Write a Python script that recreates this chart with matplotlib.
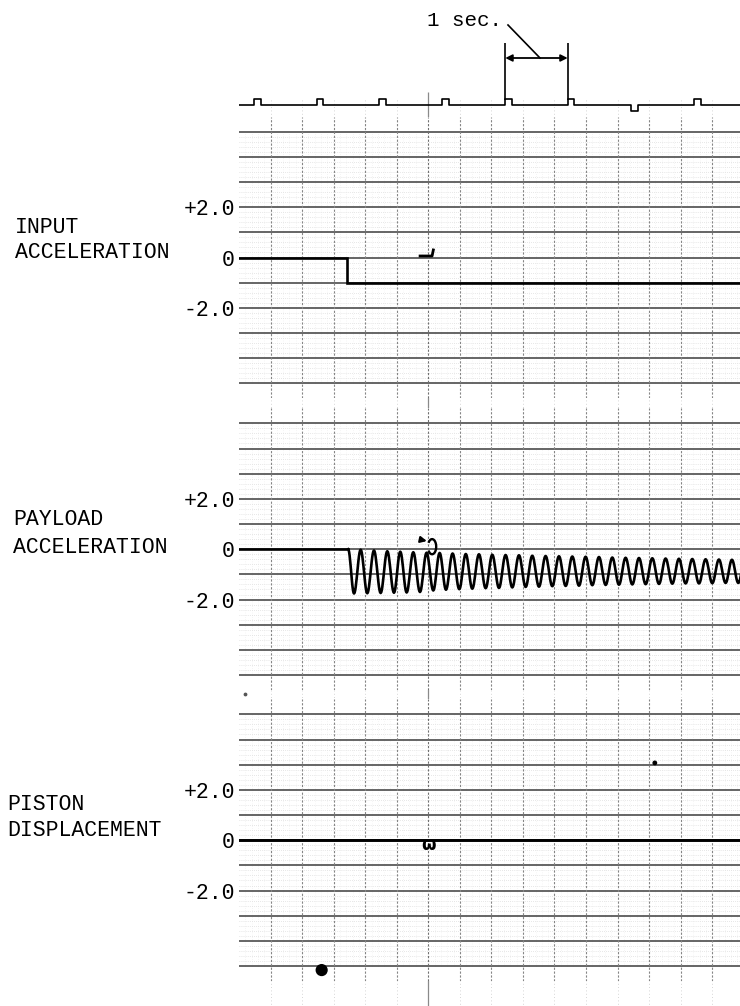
import numpy as np
import matplotlib
matplotlib.use("Agg")
import matplotlib.pyplot as plt
from matplotlib.patches import Arc

# ---- data (time in seconds, values in chart units) ----
T_END = 7.94

# timing trace: rising edge of each 1-sec pip, +1 = up pip, -1 = down pip
pip_t = [0.238, 1.231, 2.219, 3.222, 4.220, 5.209, 6.212, 7.210]
pip_dir = [1, 1, 1, 1, 1, 1, -1, 1]

# input acceleration: step from 0 to -1.0
input_t = [0.0, 1.71, 1.71, T_END]
input_v = [0.0, 0.0, -1.0, -1.0]

payload_start = 1.73
trough_t = [1.823, 2.033, 2.245, 2.456, 2.657, 2.868, 3.079, 3.280, 3.491, 3.697,
            3.909, 4.120, 4.331, 4.543, 4.754, 4.965, 5.177, 5.388, 5.599, 5.811,
            6.022, 6.233, 6.445, 6.656, 6.867, 7.078, 7.290, 7.501, 7.712, 7.913]
trough_v = [-1.76, -1.75, -1.74, -1.73, -1.72, -1.70, -1.64, -1.61, -1.59, -1.57,
            -1.55, -1.54, -1.52, -1.50, -1.49, -1.47, -1.46, -1.45, -1.43, -1.42,
            -1.41, -1.40, -1.39, -1.38, -1.37, -1.36, -1.36, -1.35, -1.34, -1.34]
peak_t = [1.928, 2.139, 2.350, 2.556, 2.762, 2.973, 3.180, 3.385, 3.594, 3.803,
          4.014, 4.225, 4.437, 4.648, 4.859, 5.071, 5.282, 5.493, 5.705, 5.916,
          6.127, 6.339, 6.550, 6.761, 6.972, 7.184, 7.395, 7.606, 7.812, 8.020]
peak_v = [-0.02, -0.05, -0.08, -0.10, -0.12, -0.14, -0.15, -0.17, -0.19, -0.20,
          -0.22, -0.23, -0.24, -0.26, -0.27, -0.28, -0.29, -0.30, -0.31, -0.33,
          -0.34, -0.35, -0.36, -0.37, -0.38, -0.39, -0.40, -0.41, -0.42, -0.43]

# piston displacement: stays at 0
piston_t = [0.0, T_END]
piston_v = [0.0, 0.0]

event_t = 3.0  # small pen marks on each trace
ink_t = [1.31, 6.59, 0.10]
ink_v = [-5.16, 3.07, 5.81]

labels = [["INPUT", "ACCELERATION"], ["PAYLOAD", "ACCELERATION"], ["PISTON", "DISPLACEMENT"]]
ytick_vals = [2, 0, -2]
ytick_txt = ["+2.0", "0", "-2.0"]

# ---- layout (pixels of a 740x1006 page) ----
W, H = 740, 1006
PX_LEFT = 239
panel_center_px = [257.5, 549.2, 840.2]
label_x_px = [15, 13, 7]
label_y = [(1.19, 0.19), (1.18, 0.07), (1.40, 0.37)]  # chart units for the two label lines
PX_PER_UNIT = 25.17
YLIM = 5.6

mono = "Liberation Mono"
fig = plt.figure(figsize=(W / 100, H / 100), dpi=100)
fig.patch.set_facecolor("white")

# background: faint vertical rulings running the length of the paper
bg = fig.add_axes([PX_LEFT / W, 0, 1 - PX_LEFT / W, 1])
bg.set_xlim(0, T_END)
bg.set_ylim(H, 0)
bg.axis("off")
for t in np.arange(0.5, T_END, 0.5):
    if abs(t - 3.0) < 1e-6:
        bg.vlines(t, 92, H, color="#8a8a8a", lw=0.9)
    else:
        bg.vlines(t, 100, H, color="#c8c8c8", lw=0.6, linestyles=(0, (1, 3)))


def smooth_osc(ts, vs, n=12):
    xs, ys = [], []
    for i in range(len(ts) - 1):
        s = np.linspace(0, 1, n, endpoint=False)
        xs.extend(ts[i] + (ts[i + 1] - ts[i]) * s)
        ys.extend(vs[i] + (vs[i + 1] - vs[i]) * (1 - np.cos(np.pi * s)) / 2)
    xs.append(ts[-1])
    ys.append(vs[-1])
    return np.array(xs), np.array(ys)


axes = []
for k, c in enumerate(panel_center_px):
    h = 2 * YLIM * PX_PER_UNIT
    bottom = (H - (c + h / 2)) / H
    ax = fig.add_axes([PX_LEFT / W, bottom, 1 - PX_LEFT / W, h / H])
    ax.set_xlim(0, T_END)
    ax.set_ylim(-YLIM, YLIM)
    for sp in ax.spines.values():
        sp.set_visible(False)
    ax.set_xticks([])
    ax.set_yticks(ytick_vals)
    ax.set_yticklabels(ytick_txt, fontfamily=mono, fontsize=15.5)
    ax.tick_params(axis="y", length=0, pad=3)
    # minor rulings
    for y in np.arange(-5, 5, 0.2):
        if abs(y - round(y)) > 1e-6:
            ax.axhline(y, color="#d0d0d0", lw=0.5, ls=(0, (1, 2)), zorder=0)
    for t in np.arange(0.1, T_END, 0.1):
        if abs(t * 2 - round(t * 2)) > 1e-6:
            ax.vlines(t, -5, 5, color="#e0e0e0", lw=0.4, linestyles=(0, (1, 3)), zorder=0)
    # major rulings
    for y in range(-5, 6):
        ax.axhline(y, color="#3c3c3c", lw=1.1, zorder=1)
    for t in np.arange(0.5, T_END, 0.5):
        col = "#707070" if abs(t - 3.0) < 1e-6 else "#858585"
        ax.axvline(t, color=col, lw=0.8, ls=(0, (2, 1.5)), zorder=1)
    lx = -(PX_LEFT - label_x_px[k]) / (W - PX_LEFT) * T_END
    for line, ly in zip(labels[k], label_y[k]):
        ax.text(lx, ly, line, fontfamily=mono, fontsize=15.5, va="center", ha="left",
                clip_on=False)
    axes.append(ax)

ax1, ax2, ax3 = axes

# input acceleration
ax1.plot(input_t, input_v, color="black", lw=1.9, zorder=3, solid_joinstyle="miter")
ax1.plot([event_t - 0.13, event_t + 0.06, event_t + 0.08], [0.06, 0.06, 0.3],
         color="black", lw=2.0, zorder=3)

# payload acceleration
ext_t = [payload_start] + [v for pair in zip(trough_t, peak_t) for v in pair]
ext_v = [0.0] + [v for pair in zip(trough_v, peak_v) for v in pair]
ox, oy = smooth_osc(ext_t, ext_v)
ax2.plot([0, payload_start], [0, 0], color="black", lw=1.9, zorder=3)
ax2.plot(ox, oy, color="black", lw=1.9, zorder=3)
ax2.annotate("", xy=(event_t + 0.02, 0.3), xytext=(event_t - 0.16, 0.4),
             arrowprops=dict(arrowstyle="-|>", color="black", lw=1.5, mutation_scale=9))
ax2.add_patch(Arc((event_t + 0.06, 0.1), 0.13, 0.6, theta1=-110, theta2=110,
                  color="black", lw=1.7, zorder=3))

# piston displacement
ax3.plot(piston_t, piston_v, color="black", lw=2.1, zorder=3)
ax3.text(event_t, -0.2, "ω", fontfamily="DejaVu Sans", fontsize=12, fontweight="bold",
         ha="center", va="center", zorder=4)
ax3.scatter(ink_t[:2], ink_v[:2], s=[60, 6], color="black", zorder=4, clip_on=False)
ax3.scatter(ink_t[2:], ink_v[2:], s=3, color="#555555", zorder=4, clip_on=False)

# timing trace with 1-sec pips
top_px = panel_center_px[0] - YLIM * PX_PER_UNIT
tax = fig.add_axes([PX_LEFT / W, (H - top_px) / H, 1 - PX_LEFT / W, top_px / H])
base_px = 105
px_unit = 6.0
tax.set_xlim(0, T_END)
tax.set_ylim(-(top_px - base_px) / px_unit, base_px / px_unit)
tax.axis("off")
pip_w = 0.105
tt, tv = [0.0], [0.0]
for t, d in zip(pip_t, pip_dir):
    tt += [t, t, t + pip_w, t + pip_w]
    tv += [0, d, d, 0]
tt.append(T_END)
tv.append(0)
tax.plot(tt, tv, color="black", lw=1.2)

# "1 sec." marker
b0, b1 = pip_t[4], pip_t[5]
y_arrow = (base_px - 58) / px_unit
tax.vlines([b0, b1], (base_px - 100) / px_unit, (base_px - 43) / px_unit, color="black", lw=1.2)
tax.annotate("", xy=(b0, y_arrow), xytext=(b1, y_arrow),
             arrowprops=dict(arrowstyle="<|-|>", color="black", lw=1.3, mutation_scale=10,
                             shrinkA=0, shrinkB=0))
tax.text((427 - PX_LEFT) / (W - PX_LEFT) * T_END, (base_px - 20) / px_unit, "1 sec.",
         fontfamily=mono, fontsize=15, ha="left", va="center")
tax.plot([(508 - PX_LEFT) / (W - PX_LEFT) * T_END, (540 - PX_LEFT) / (W - PX_LEFT) * T_END],
         [(base_px - 25) / px_unit, y_arrow], color="black", lw=1.2)

fig.savefig("out.png", dpi=100, facecolor="white")
